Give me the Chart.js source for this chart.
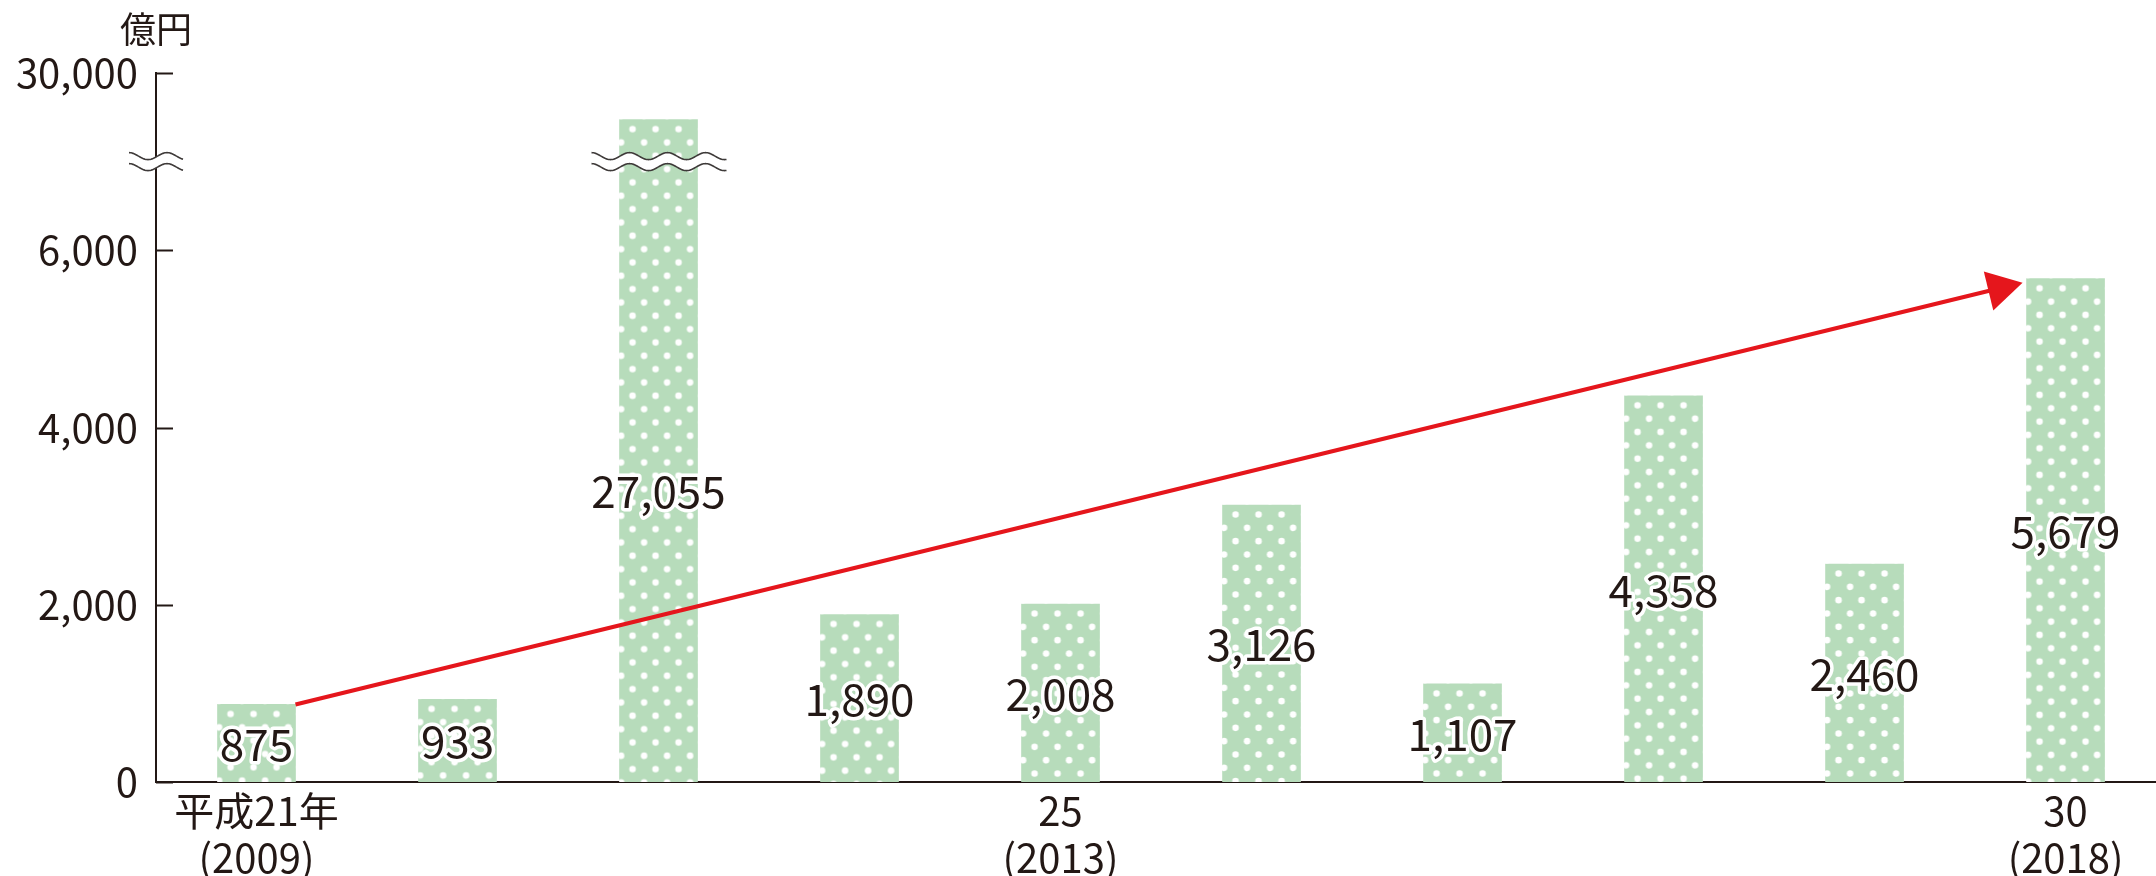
<!DOCTYPE html>
<html><head><meta charset="utf-8">
<script src="https://cdn.jsdelivr.net/npm/chart.js@4.4.1/dist/chart.umd.min.js"></script>
<style>html,body{margin:0;padding:0;background:#fff}#wrap{width:2156px;height:876px;position:relative}</style>
</head><body><div id="wrap"><canvas id="c"></canvas></div>
<script>
// ---- data ----
const categories = ['2009','2010','2011','2012','2013','2014','2015','2016','2017','2018'];
const values = [875, 933, 27055, 1890, 2008, 3126, 1107, 4358, 2460, 5679];
const yTickValues = [0, 2000, 4000, 6000, 30000];
const yTickLabels = ['0', '2,000', '4,000', '6,000', '30,000'];
const xTickIndexes = [0, 4, 9];
const xTickLabels = [['平成21年', '(2009)'], ['25', '(2013)'], ['30', '(2018)']];
const unitLabel = '億円';

// broken-axis mapping (value -> axis units)
const axisAnchors = [[0, 0], [6000, 6000], [24400, 7000], [30000, 8000]];
const breakAxisValue = 7000;
function toAxis(v) {
  for (let i = 1; i < axisAnchors.length; i++) {
    const [v0, a0] = axisAnchors[i - 1], [v1, a1] = axisAnchors[i];
    if (v <= v1) return a0 + (v - v0) * (a1 - a0) / (v1 - v0);
  }
  return axisAnchors[axisAnchors.length - 1][1];
}

const INK = '#231815';
const FONT = "'Noto Sans CJK JP', 'Noto Sans', sans-serif";
const BAR_COLOR = 'rgb(183,220,187)';
const BAR_W = 78;

// dotted tile
const tileW = 23, tileH = 80;
const tile = document.createElement('canvas');
tile.width = tileW; tile.height = tileH;
(function () {
  const t = tile.getContext('2d');
  t.fillStyle = BAR_COLOR; t.fillRect(0, 0, tileW, tileH);
  t.fillStyle = '#ffffff';
  for (let j = 0; j < 6; j++) {
    const y = 9.5 + j * tileH / 6;
    const x = (j % 2 === 0) ? 13 : 1.5;
    for (let dx = -1; dx <= 1; dx++) for (let dy = -1; dy <= 1; dy++) {
      t.beginPath(); t.arc(x + dx * tileW, y + dy * tileH, 3.3, 0, Math.PI * 2); t.fill();
    }
  }
})();

function barFill(c) {
  if (c.type !== 'data') return BAR_COLOR;
  const chart = c.chart, xs = chart.scales.x, ys = chart.scales.y;
  if (!xs || !ys) return BAR_COLOR;
  const left = xs.getPixelForValue(c.dataIndex) - BAR_W / 2;
  const top = ys.getPixelForValue(toAxis(values[c.dataIndex]));
  const p = chart.ctx.createPattern(tile, 'repeat');
  p.setTransform(new DOMMatrix([1, 0, 0, 1, left, top]));
  return p;
}

function drawWaveBreak(ctx, x0, x1, yc) {
  const A = 3.5, P = 38, gap = 5.5;
  const wave = (x, off) => yc + off - A * Math.cos(2 * Math.PI * (x - x0) / P);
  ctx.save();
  ctx.beginPath();
  for (let x = x0; x <= x1; x += 1) { const y = wave(x, -gap); x === x0 ? ctx.moveTo(x, y) : ctx.lineTo(x, y); }
  for (let x = x1; x >= x0; x -= 1) ctx.lineTo(x, wave(x, gap));
  ctx.closePath();
  ctx.fillStyle = '#fff'; ctx.fill();
  ctx.strokeStyle = '#3e3a39'; ctx.lineWidth = 1.6;
  [-gap, gap].forEach(off => {
    ctx.beginPath();
    for (let x = x0; x <= x1; x += 1) { const y = wave(x, off); x === x0 ? ctx.moveTo(x, y) : ctx.lineTo(x, y); }
    ctx.stroke();
  });
  ctx.restore();
}

const decor = {
  id: 'decor',
  afterDraw(chart) {
    const ctx = chart.ctx, ys = chart.scales.y, ca = chart.chartArea;
    const meta = chart.getDatasetMeta(0);
    // inward tick marks
    ctx.save();
    ctx.strokeStyle = INK; ctx.lineWidth = 2;
    ys.ticks.forEach(t => {
      const y = Math.round(ys.getPixelForValue(t.value)) + 0.5;
      ctx.beginPath(); ctx.moveTo(ca.left, y); ctx.lineTo(ca.left + 17, y); ctx.stroke();
    });
    ctx.restore();
    // unit label
    ctx.save();
    ctx.fillStyle = INK; ctx.font = '36px ' + FONT;
    ctx.textAlign = 'center'; ctx.textBaseline = 'middle';
    ctx.fillText(unitLabel, ca.left, 29);
    ctx.restore();
    // breaks
    const by = ys.getPixelForValue(breakAxisValue);
    drawWaveBreak(ctx, ca.left - 27, ca.left + 27, by);
    meta.data.forEach((el, i) => {
      if (values[i] > yTickValues[3]) drawWaveBreak(ctx, el.x - BAR_W / 2 - 28, el.x + BAR_W / 2 + 29, by);
    });
    // arrow
    const a = meta.data[0], b = meta.data[meta.data.length - 1];
    const sx = a.x + BAR_W / 2, sy = a.y;
    const tx = b.x - BAR_W / 2 - 4, ty = b.y + 4;
    const len = Math.hypot(tx - sx, ty - sy), ux = (tx - sx) / len, uy = (ty - sy) / len;
    const hl = 35, hw = 20;
    const bx = tx - ux * hl, bY = ty - uy * hl;
    ctx.save();
    ctx.strokeStyle = '#e5161c'; ctx.fillStyle = '#e5161c'; ctx.lineWidth = 4;
    ctx.beginPath(); ctx.moveTo(sx, sy); ctx.lineTo(bx + ux * 4, bY + uy * 4); ctx.stroke();
    ctx.beginPath(); ctx.moveTo(tx, ty);
    ctx.lineTo(bx - uy * hw, bY + ux * hw); ctx.lineTo(bx + uy * hw, bY - ux * hw);
    ctx.closePath(); ctx.fill();
    ctx.restore();
    // value labels
    ctx.save();
    ctx.font = '44px ' + FONT; ctx.textAlign = 'center'; ctx.textBaseline = 'middle';
    ctx.lineJoin = 'round';
    meta.data.forEach((el, i) => {
      const broken = values[i] > yTickValues[3];
      const y = broken ? (by + el.base) / 2 + 19 : (el.y + el.base) / 2 + 1;
      const txt = values[i].toLocaleString('en-US');
      ctx.strokeStyle = '#fff'; ctx.lineWidth = 7; ctx.strokeText(txt, el.x, y);
      ctx.fillStyle = INK; ctx.fillText(txt, el.x, y);
    });
    ctx.restore();
  }
};

Chart.defaults.color = INK;
Chart.defaults.font.family = FONT;

new Chart(document.getElementById('c'), {
  type: 'bar',
  data: {
    labels: categories,
    datasets: [{
      data: values.map((v, i) => ({ x: i, y: toAxis(v) })),
      backgroundColor: barFill,
      borderWidth: 0,
      barThickness: BAR_W
    }]
  },
  options: {
    responsive: true, maintainAspectRatio: false, animation: false,
    layout: { padding: { top: 73, left: 0, right: 0, bottom: 0 } },
    plugins: { legend: { display: false }, tooltip: { enabled: false } },
    scales: {
      x: {
        type: 'linear', min: -0.5, max: 9.45, offset: false,
        grid: { display: false, drawTicks: false, offset: false },
        border: { display: true, color: INK, width: 2 },
        afterBuildTicks: s => { s.ticks = xTickIndexes.map(v => ({ value: v })); },
        afterFit: s => { s.height = 94; },
        ticks: {
          font: { size: 40, family: FONT, lineHeight: 1.16 }, color: INK, padding: 6,
          maxRotation: 0, autoSkip: false,
          callback: (v, i) => xTickLabels[i]
        }
      },
      y: {
        min: 0, max: toAxis(yTickValues[yTickValues.length - 1]),
        grid: { display: false, drawTicks: false },
        border: { display: true, color: INK, width: 2 },
        afterBuildTicks: s => { s.ticks = yTickValues.map(v => ({ value: toAxis(v) })); },
        afterFit: s => { s.width = 156; },
        ticks: {
          font: { size: 40, family: FONT }, color: INK, padding: 18,
          callback: (v, i) => yTickLabels[i]
        }
      }
    }
  },
  plugins: [decor]
});
</script></body></html>
